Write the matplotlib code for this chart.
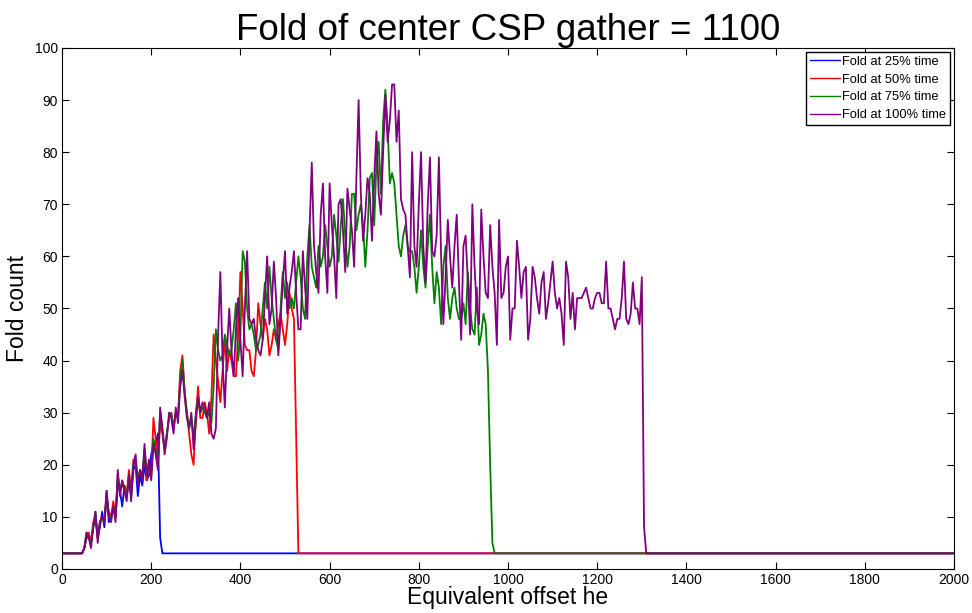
import matplotlib
matplotlib.use("Agg")
import matplotlib.pyplot as plt
import numpy as np

plt.rcParams['font.family'] = ['Liberation Sans', 'DejaVu Sans']

# offsets sampled every 5 units, 0..2000
step = 5
x_max = 2000
floor = 3

# fold values, starting at offset 0 (rest of range stays at floor)
fold_25 = [3, 3, 3, 3, 3, 3, 3, 3, 3, 3,
           4, 6, 6, 5, 8, 10, 6, 8, 11, 8,
           15, 9, 10, 12, 10, 16, 15, 12, 16, 14,
           17, 14, 19, 20, 14, 18, 16, 20, 17, 18,
           22, 24, 24, 26, 6, 3]

fold_50 = [3, 3, 3, 3, 3, 3, 3, 3, 3, 3,
           4, 6, 7, 5, 9, 10, 6, 9, 10, 9,
           14, 11, 10, 13, 10, 17, 15, 16, 16, 14,
           19, 15, 21, 20, 17, 19, 18, 22, 17, 20,
           18, 29, 25, 20, 28, 26, 23, 26, 29, 30,
           27, 30, 29, 38, 41, 34, 30, 26, 22, 20,
           29, 35, 29, 29, 32, 30, 26, 33, 45, 40,
           36, 32, 38, 44, 38, 42, 40, 37, 37, 45,
           57, 50, 43, 42, 42, 38, 37, 42, 51, 47,
           44, 48, 46, 41, 43, 46, 44, 47, 49, 46,
           43, 47, 53, 50, 48, 25, 3]

fold_75 = [3, 3, 3, 3, 3, 3, 3, 3, 3, 3,
           4, 7, 6, 5, 8, 11, 6, 9, 10, 9,
           14, 10, 10, 12, 10, 18, 15, 17, 15, 14,
           18, 14, 20, 21, 17, 19, 17, 23, 18, 20,
           18, 25, 23, 20, 30, 27, 23, 26, 29, 30,
           27, 30, 29, 36, 40, 34, 30, 27, 29, 25,
           30, 33, 30, 31, 30, 29, 30, 28, 35, 46,
           42, 40, 41, 45, 43, 41, 42, 46, 51, 40,
           45, 61, 59, 50, 46, 47, 45, 42, 43, 45,
           50, 55, 50, 58, 52, 48, 44, 42, 50, 57,
           52, 55, 50, 52, 50, 55, 60, 56, 50, 48,
           60, 66, 58, 56, 54, 62, 58, 60, 66, 62,
           58, 60, 68, 64, 59, 66, 71, 64, 58, 62,
           72, 72, 65, 68, 70, 66, 58, 65, 75, 76,
           66, 78, 82, 72, 86, 92, 85, 74, 76, 74,
           68, 62, 60, 64, 66, 62, 61, 61, 58, 53,
           58, 65, 58, 54, 62, 68, 58, 51, 57, 54,
           47, 58, 62, 52, 48, 52, 54, 50, 48, 48,
           51, 47, 57, 50, 46, 45, 54, 43, 45, 49,
           47, 38, 20, 5, 3]

fold_100 = [3, 3, 3, 3, 3, 3, 3, 3, 3, 3,
            4, 7, 6, 4, 8, 11, 5, 9, 10, 9,
            15, 10, 9, 12, 9, 19, 14, 17, 15, 13,
            18, 13, 20, 22, 16, 19, 17, 24, 18, 21,
            17, 24, 22, 19, 31, 27, 22, 25, 30, 29,
            26, 31, 28, 35, 38, 33, 29, 27, 30, 23,
            28, 33, 30, 32, 31, 29, 32, 26, 25, 27,
            45, 57, 40, 31, 42, 50, 42, 37, 46, 52,
            44, 37, 50, 61, 48, 47, 48, 44, 42, 41,
            44, 52, 60, 47, 50, 59, 52, 41, 48, 55,
            61, 49, 54, 57, 61, 53, 46, 46, 61, 54,
            48, 65, 78, 62, 57, 53, 68, 74, 60, 53,
            74, 66, 60, 52, 70, 71, 65, 57, 73, 69,
            65, 58, 75, 90, 72, 63, 68, 75, 72, 63,
            75, 84, 72, 68, 80, 91, 82, 86, 93, 93,
            82, 88, 71, 69, 68, 62, 56, 80, 62, 58,
            70, 80, 62, 55, 70, 79, 61, 60, 64, 79,
            60, 47, 56, 67, 60, 54, 62, 68, 55, 44,
            62, 64, 55, 45, 70, 58, 50, 47, 69, 60,
            53, 52, 66, 58, 53, 43, 67, 52, 53, 58,
            60, 44, 50, 50, 63, 58, 52, 57, 58, 44,
            48, 58, 56, 52, 49, 55, 57, 48, 51, 55,
            59, 53, 50, 52, 49, 43, 59, 56, 48, 53,
            46, 52, 52, 52, 53, 54, 52, 50, 50, 52,
            53, 53, 51, 51, 59, 50, 50, 48, 46, 48,
            48, 52, 59, 48, 47, 49, 55, 50, 50, 47,
            56, 8, 3]

labels = ['Fold at 25% time', 'Fold at 50% time', 'Fold at 75% time', 'Fold at 100% time']
colors = ['#0000ff', '#ff0000', '#008000', '#800080']

offset = np.arange(0, x_max + step, step)


def pad(vals):
    out = np.full(len(offset), float(floor))
    out[:len(vals)] = vals
    return out


fig = plt.figure(figsize=(9.72, 6.13), dpi=100)
ax = fig.add_axes([0.0638, 0.0718, 0.9177, 0.8499])

for vals, c, lab in zip([fold_25, fold_50, fold_75, fold_100], colors, labels):
    ax.plot(offset, pad(vals), color=c, lw=1.3, label=lab)

ax.set_xlim(0, 2000)
ax.set_ylim(0, 100)
ax.set_xticks(np.arange(0, 2001, 200))
ax.set_yticks(np.arange(0, 101, 10))
ax.tick_params(direction='in', length=5, width=0.8, top=True, right=True,
               labelsize=10, pad=3)
for s in ax.spines.values():
    s.set_linewidth(0.8)

ax.set_title('Fold of center CSP gather = 1100', fontsize=26.5, pad=6)
ax.set_xlabel('Equivalent offset he', fontsize=16.5, labelpad=-1)
ax.set_ylabel('Fold count', fontsize=16.5, labelpad=4)

leg = ax.legend(loc='upper right', fontsize=9.3, fancybox=False, framealpha=1,
                edgecolor='black', borderpad=0.3, labelspacing=0.45,
                handlelength=2.3, handletextpad=0.2, borderaxespad=0.3)
leg.get_frame().set_linewidth(1.0)
for ln in leg.get_lines():
    ln.set_linewidth(1.0)

fig.savefig('out.png', dpi=100)
